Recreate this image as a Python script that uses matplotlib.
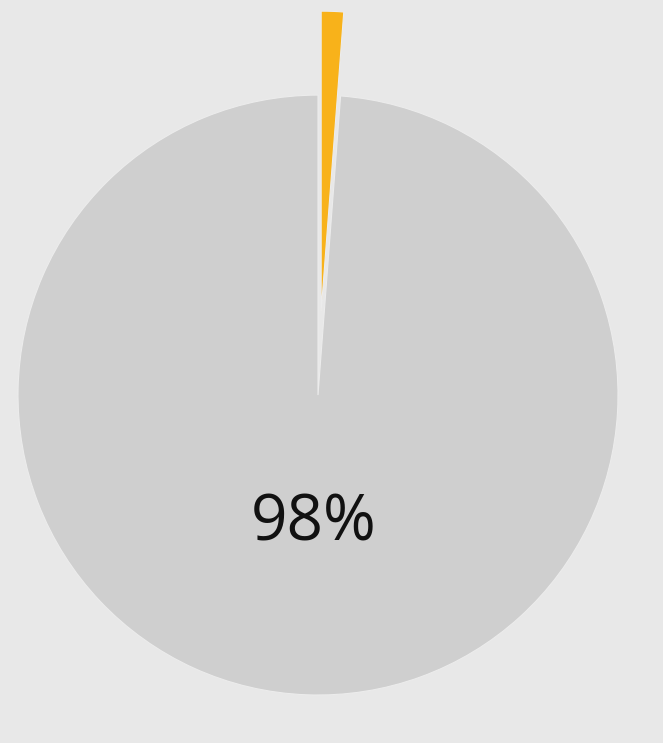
import matplotlib.pyplot as plt

# share of each slice (grey first, drawn clockwise from the top)
labels = ['other', 'highlight']
shares = [98.8, 1.2]
colors = ['#cfcfcf', '#f8b21a']
explode = [0, 0.28]

fig = plt.figure(figsize=(6.63, 7.43), dpi=100)
fig.patch.set_facecolor('#e8e8e8')
ax = fig.add_axes([0, 0, 1, 1])
ax.set_facecolor('#e8e8e8')

wedges, texts, autotexts = ax.pie(
    shares, colors=colors, explode=explode, startangle=90 - 360 * shares[1] / 100,
    counterclock=False, autopct=lambda p: f"{int(p)}%" if p > 50 else "",
    pctdistance=0.43, wedgeprops=dict(edgecolor='#ececec', linewidth=0.8),
    textprops=dict(fontsize=46, family='Open Sans', color='#111111'))

ax.set_xlim(-1.06, 1.15)
ax.set_ylim(-1.16, 1.317)
ax.set_aspect('auto')
ax.axis('off')

fig.savefig('out.png', dpi=100, facecolor=fig.get_facecolor())
